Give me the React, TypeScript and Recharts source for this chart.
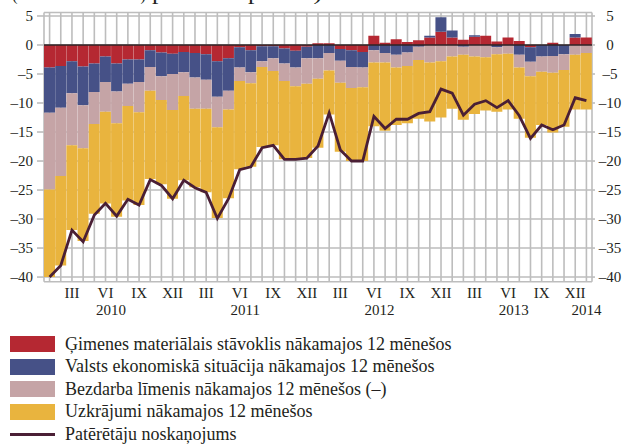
import { ComposedChart, Bar, Line, XAxis, YAxis, CartesianGrid, ReferenceLine } from 'recharts';

const years = ['2010', '2011', '2012', '2013', '2014'];
const roman = ['I', 'II', 'III', 'IV', 'V', 'VI', 'VII', 'VIII', 'IX', 'X', 'XI', 'XII'];
// Jan 2010 .. Jan 2014
const categories = years.flatMap((yr) => roman.map((r) => r + ' ' + yr)).slice(0, 49);

const gimenes = [
  -3.9, -3.6, -2.8, -3.7, -3.2, -2.0, -3.2, -2.5, -2.5, -0.9, -1.3, -1.5,
  -1.2, -1.4, -1.6, -2.8, -2.3, -0.4, -0.9, -0.2, -0.2, -0.6, -1.0, -0.3,
  0.3, 0.3, -0.7, -0.9, -1.2, 1.6, 0.4, 1.0, 0.5, 0.8, 1.3, 2.3,
  1.3, 0.9, 1.4, 1.6, 0.6, 1.3, 0.7, -0.4, 0, 0.4, 0, 1.3,
  1.3,
];
const valsts = [
  -7.8, -7.2, -5.5, -6.7, -4.9, -4.4, -4.8, -4.2, -3.9, -2.9, -4.1, -3.5,
  -3.5, -4.2, -4.4, -6.1, -5.6, -3.5, -3.8, -2.6, -2.1, -2.6, -2.9, -2.0,
  -2.3, -1.4, -2.0, -2.9, -2.7, -0.9, -1.4, -1.7, -1.3, -0.3, 0.3, 2.5,
  1.2, -0.3, 0.3, 0, -0.4, -0.1, -1.7, -2.5, -2.0, -1.9, -1.6, 0.6,
  0,
];
const bezdarbs = [
  -13.2, -11.8, -9.0, -7.4, -5.5, -5.1, -5.5, -3.8, -5.2, -4.1, -4.1, -6.2,
  -4.1, -5.4, -5.0, -5.3, -3.2, -2.3, -1.9, -1.0, -2.2, -3.0, -3.2, -4.4,
  -3.5, -3.0, -3.8, -3.6, -3.4, -2.1, -1.6, -2.2, -2.3, -2.3, -3.0, -2.8,
  -2.0, -1.4, -2.0, -2.1, -1.2, -1.4, -2.2, -2.5, -2.6, -2.9, -2.7, -1.7,
  -1.4,
];
const uzkrajumi = [
  -15.1, -15.4, -14.6, -16.0, -15.5, -15.8, -16.1, -16.3, -16.0, -15.2, -14.5, -15.3,
  -14.5, -13.5, -14.4, -15.6, -15.3, -15.2, -14.4, -13.8, -12.8, -13.5, -12.6, -12.8,
  -11.9, -7.6, -11.9, -12.6, -12.7, -11.0, -11.8, -9.9, -9.9, -10.1, -10.2, -9.7,
  -9.0, -11.2, -9.9, -9.2, -9.9, -9.6, -8.8, -10.6, -9.2, -10.3, -9.8, -9.4,
  -9.7,
];
const noskanojums = [
  -40.0, -38.0, -31.9, -33.9, -29.3, -27.3, -29.5, -26.6, -27.6, -23.2, -24.2, -26.5,
  -23.3, -24.6, -25.4, -29.9, -26.5, -21.5, -21.0, -17.7, -17.3, -19.7, -19.7, -19.5,
  -17.4, -11.7, -18.1, -20.0, -20.0, -12.3, -14.4, -12.8, -12.8, -11.8, -11.5, -7.6,
  -8.3, -12.1, -10.2, -9.6, -10.8, -9.6, -12.2, -16.1, -13.8, -14.6, -13.8, -9.1,
  -9.6,
];
const yTicks = [5, 0, -5, -10, -15, -20, -25, -30, -35, -40];

const data = categories.map((m, i) => ({
  month: m,
  gimenes: gimenes[i],
  valsts: valsts[i],
  bezdarbs: bezdarbs[i],
  uzkrajumi: uzkrajumi[i],
  noskanojums: noskanojums[i],
}));

const legendItems = [
  { label: 'Ģimenes materiālais stāvoklis nākamajos 12 mēnešos', color: '#b52832', type: 'box' },
  { label: 'Valsts ekonomiskā situācija nākamajos 12 mēnešos', color: '#465187', type: 'box' },
  { label: 'Bezdarba līmenis nākamajos 12 mēnešos (–)', color: '#c5a4a6', type: 'box' },
  { label: 'Uzkrājumi nākamajos 12 mēnešos', color: '#e9b43e', type: 'box' },
  { label: 'Patērētāju noskaņojums', color: '#4a1f35', type: 'line' },
];

const FONT = '"Liberation Serif", "Times New Roman", serif';
const TEXT = '#231f20';
const GRID = '#bdbdbd';
const BAND = 548 / 49;

const fmt = (v: number) => (v < 0 ? '–' + Math.abs(v) : String(v));

const MonthTick = (props: any) => {
  const { x, y, payload } = props;
  const i = categories.indexOf(payload.value);
  const m = i % 12;
  return (
    <g fontFamily={FONT} fontSize={15} fill={TEXT}>
      {m % 3 === 2 && (
        <text x={x} y={y + 16.5} textAnchor="middle" fill={TEXT}>{roman[m]}</text>
      )}
      {m === 5 && (
        <text x={x + BAND / 2} y={y + 33.5} textAnchor="middle" fill={TEXT}>{years[Math.floor(i / 12)]}</text>
      )}
      {i === categories.length - 1 && (
        <text x={x} y={y + 33.5} textAnchor="middle" fill={TEXT}>{years[Math.floor(i / 12)]}</text>
      )}
    </g>
  );
};

const RightTick = (props: any) => {
  const { x, y, payload } = props;
  return (
    <text x={x + 15} y={y} dy="0.355em" textAnchor="middle" fontFamily={FONT} fontSize={15} fill={TEXT}>
      {fmt(payload.value)}
    </text>
  );
};

const App = () => {
  return (
    <div style={{ position: 'absolute', left: 0, top: 0, width: 624, height: 446, background: '#fff' }}>
      {/* title line sits above the frame, only its lowest edge is visible */}
      <svg width={624} height={8} style={{ position: 'absolute', left: 0, top: 0, display: 'block' }}>
        <text x={12} y={0} fontFamily={FONT} fontSize={18} fill={TEXT} textLength={134} lengthAdjust="spacingAndGlyphs">(sezonāli izlīdzināti)</text>
        <text x={152} y={0} fontFamily={FONT} fontSize={18} fill={TEXT} textLength={170} lengthAdjust="spacingAndGlyphs">procentu punkti)</text>
      </svg>
      <ComposedChart
        width={624}
        height={322}
        data={data}
        stackOffset="sign"
        barCategoryGap={0}
        barGap={0}
        margin={{ top: 12.5, right: 0, bottom: 0, left: 0 }}
      >
        <CartesianGrid stroke={GRID} strokeWidth={1.6} yAxisId="l" />
        <XAxis
          dataKey="month"
          interval={0}
          tickLine={false}
          axisLine={false}
          tickSize={0}
          tickMargin={0}
          height={40.3}
          tick={<MonthTick />}
        />
        <YAxis
          yAxisId="l"
          domain={[-40.8, 5.6]}
          allowDataOverflow
          ticks={yTicks}
          width={44}
          tickSize={7}
          tickMargin={4}
          tickLine={{ stroke: GRID, strokeWidth: 1.6 }}
          axisLine={false}
          tickFormatter={fmt}
          tick={{ fill: TEXT, fontSize: 15, fontFamily: FONT }}
        />
        <YAxis
          yAxisId="r"
          orientation="right"
          domain={[-40.8, 5.6]}
          allowDataOverflow
          ticks={yTicks}
          width={32}
          tickSize={3}
          tickMargin={0}
          tickLine={{ stroke: GRID, strokeWidth: 1.6 }}
          axisLine={false}
          tick={<RightTick />}
        />
        <Bar yAxisId="l" dataKey="gimenes" stackId="s" fill="#b52832" isAnimationActive={false} />
        <Bar yAxisId="l" dataKey="valsts" stackId="s" fill="#465187" isAnimationActive={false} />
        <Bar yAxisId="l" dataKey="bezdarbs" stackId="s" fill="#c5a4a6" isAnimationActive={false} />
        <Bar yAxisId="l" dataKey="uzkrajumi" stackId="s" fill="#e9b43e" isAnimationActive={false} />
        <ReferenceLine yAxisId="l" y={0} stroke="#2e2326" strokeWidth={1.5} />
        <Line
          yAxisId="l"
          dataKey="noskanojums"
          type="linear"
          stroke="#4a1f35"
          strokeWidth={2.8}
          dot={false}
          activeDot={false}
          isAnimationActive={false}
        />
      </ComposedChart>
      <div style={{ position: 'absolute', left: 10, top: 333, fontFamily: FONT, fontSize: 18, color: TEXT }}>
        {legendItems.map((it) => (
          <div key={it.label} style={{ display: 'flex', alignItems: 'center', height: 22.5, whiteSpace: 'nowrap' }}>
            {it.type === 'box' ? (
              <div style={{ width: 45, height: 16, background: it.color, marginRight: 10 }} />
            ) : (
              <div style={{ width: 45, height: 3, background: it.color, marginRight: 10 }} />
            )}
            <span>{it.label}</span>
          </div>
        ))}
      </div>
    </div>
  );
};

export default App;
